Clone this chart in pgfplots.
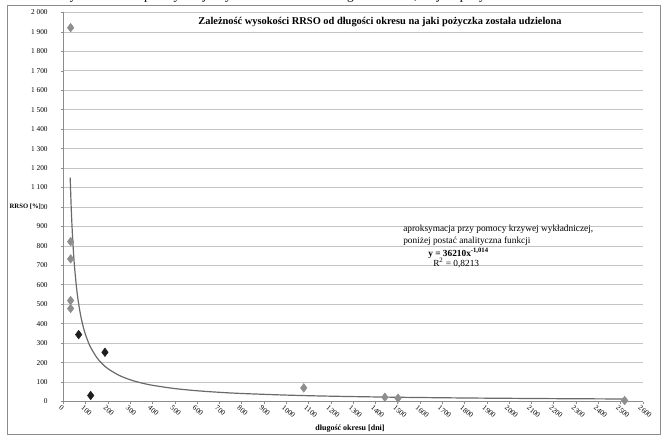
\documentclass[border=0pt]{standalone}
\usepackage{fontspec}
\setmainfont{Liberation Serif}
\usepackage{pgfplots}
\pgfplotsset{compat=1.18}

\definecolor{gridgray}{HTML}{C4C4C4}
\definecolor{axgray}{HTML}{8C8C8C}
\definecolor{ptgray}{HTML}{8E8E8E}
\definecolor{ptdark}{HTML}{1E1E1E}
\definecolor{trend}{HTML}{6A6A6A}

\begin{document}
\begin{tikzpicture}[x=0.75pt,y=0.75pt]
% frame of the scanned chart
\draw[axgray, line width=0.6pt] (7,431) rectangle (660,2);
% caption of the page, cut at the top
\node[anchor=base, inner sep=0pt, font=\fontsize{10}{12}\selectfont] at (332,436.5)
  {Wykres nr 30: aproksymacja wysokości RRSO od długości okresu, na jaki pożyczka została udzielona};

\begin{axis}[
    at={(47.625pt,25.875pt)}, anchor=south west,
    scale only axis,
    width=434.6pt, height=291.75pt,
    xmin=0, xmax=2600, ymin=0, ymax=2000,
    xtick distance=100, ytick distance=100,
    axis lines=left,
    axis line style={-, draw=axgray, line width=0.6pt},
    tick align=outside,
    major tick length=2.2pt,
    tick style={draw=axgray, line width=0.5pt},
    ymajorgrids=true,
    grid style={draw=gridgray, line width=0.6pt},
    /pgf/number format/assume math mode=true,
    tick label style={font=\fontsize{5.5}{6}\selectfont},
    xticklabel style={/pgf/number format/1000 sep={}, rotate=-40, anchor=north west, inner sep=1pt, xshift=-2pt},
    yticklabel style={/pgf/number format/1000 sep={\ }, inner sep=1pt, xshift=-8.5pt},
    clip=false,
]

% trend line y = 36210 x^-1.014
\addplot[trend, line width=0.9pt, smooth, no marks] coordinates {
    (30,1150.9) (35,984.3) (40,859.7) (45,762.9) (50,685.6) (60,569.9)
    (70,487.4) (80,425.7) (90,377.8) (100,339.5) (120,282.2) (150,225.0)
    (175,192.5) (200,168.1) (250,134.1) (300,111.4) (350,95.3) (400,83.2)
    (500,66.4) (600,55.2) (700,47.2) (800,41.2) (1000,32.9) (1200,27.3)
    (1500,21.8) (1800,18.1) (2000,16.3) (2250,14.4) (2520,12.9)
};

% light points
\addplot[only marks, mark=diamond*, mark size=3.2pt, ptgray, mark options={fill=ptgray, draw=ptgray}] coordinates {
    (32,1922) (32,822) (32,733) (32,519) (32,478)
    (1078,70) (1442,22) (1501,17) (2518,5)
};

% dark points
\addplot[only marks, mark=diamond*, mark size=3.2pt, ptdark, mark options={fill=ptdark, draw=ptdark}] coordinates {
    (68,344) (122,31) (186,253)
};
\end{axis}

% title
\node[font=\bfseries\fontsize{7.8}{9}\selectfont, inner sep=0pt] at (380,414) {Zależność wysokości RRSO od długości okresu na jaki pożyczka została udzielona};
% axis titles
\node[anchor=west, fill=white, inner sep=0.3pt, font=\bfseries\fontsize{5}{6}\selectfont] at (9,229) {RRSO [\%]};
\node[font=\bfseries\fontsize{6}{7}\selectfont, inner sep=0pt] at (350,7) {długość okresu [dni]};
% annotation
\begin{scope}[every node/.style={anchor=base west, inner sep=0pt, font=\fontsize{7}{8}\selectfont}]
\node at (403,204) {aproksymacja przy pomocy krzywej wykładniczej,};
\node at (403,192) {poniżej postać analityczna funkcji};
\node at (428,179) {\bfseries y = 36210x\textsuperscript{-1,014}};
\node at (433,169) {R\textsuperscript{2} = 0,8213};
\end{scope}
\pgfresetboundingbox
\useasboundingbox (0,0) rectangle (664,436);
\end{tikzpicture}
\end{document}
